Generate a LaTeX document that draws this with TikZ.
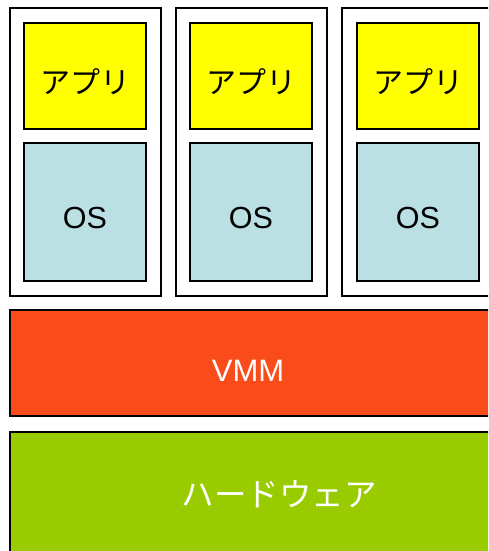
\documentclass[tikz,border=0pt]{standalone}
\usepackage{fontspec}
\setmainfont{Liberation Sans}
\newfontfamily\jpfont{Noto Sans CJK JP}
\definecolor{appyellow}{HTML}{FFFF00}
\definecolor{osblue}{HTML}{BAE0E3}
\definecolor{vmmorange}{HTML}{FA4C1A}
\definecolor{hwgreen}{HTML}{99CC00}
\tikzset{
  box/.style={draw=black, line width=2pt, inner sep=0pt, outer sep=0pt, anchor=north west},
  vmbox/.style={box, fill=white, minimum width=151pt, minimum height=288pt},
  appbox/.style={box, fill=appyellow, minimum width=122pt, minimum height=106pt},
  osbox/.style={box, fill=osblue, minimum width=122pt, minimum height=138pt},
  layer/.style={box, minimum width=485pt},
  applabel/.style={inner sep=0pt, font=\jpfont\fontsize{30}{34}\selectfont},
  oslabel/.style={inner sep=0pt, font=\fontsize{30.5}{34}\selectfont},
  layerlabel/.style={inner sep=0pt, text=white}
}
\begin{document}
\begin{tikzpicture}[x=1pt,y=-1pt]
\useasboundingbox (0,0) rectangle (488,551);
\clip (0,0) rectangle (488,551);
\fill[white] (0,0) rectangle (488,551);
\node[vmbox] (vm1) at (10,8) {};
\node[vmbox] (vm2) at (176,8) {};
\node[vmbox] (vm3) at (342,8) {};
\node[appbox] (app1) at (24,23) {};
\node[appbox] (app2) at (190,23) {};
\node[appbox] (app3) at (357,23) {};
\node[osbox] (os1) at (24,143) {};
\node[osbox] (os2) at (190,143) {};
\node[osbox] (os3) at (357,143) {};
\node[applabel] (app1t) at ([yshift=-6pt]app1.center) {アプリ};
\node[applabel] (app2t) at ([yshift=-6pt]app2.center) {アプリ};
\node[applabel] (app3t) at ([yshift=-6pt]app3.center) {アプリ};
\node[oslabel] (os1t) at ([yshift=-6pt]os1.center) {OS};
\node[oslabel] (os2t) at ([yshift=-6pt]os2.center) {OS};
\node[oslabel] (os3t) at ([yshift=-6pt]os3.center) {OS};
\node[layer, fill=vmmorange, minimum height=106pt] (vmm) at (10,310) {};
\node[layerlabel, font=\fontsize{31}{34}\selectfont] (vmmlabel) at (248,371) {VMM};
\node[layer, fill=hwgreen, minimum height=130pt] (hw) at (10,432) {};
\node[layerlabel, font=\jpfont\fontsize{32.5}{36}\selectfont] (hwlabel) at (279,494) {ハードウェア};
\end{tikzpicture}
\end{document}
